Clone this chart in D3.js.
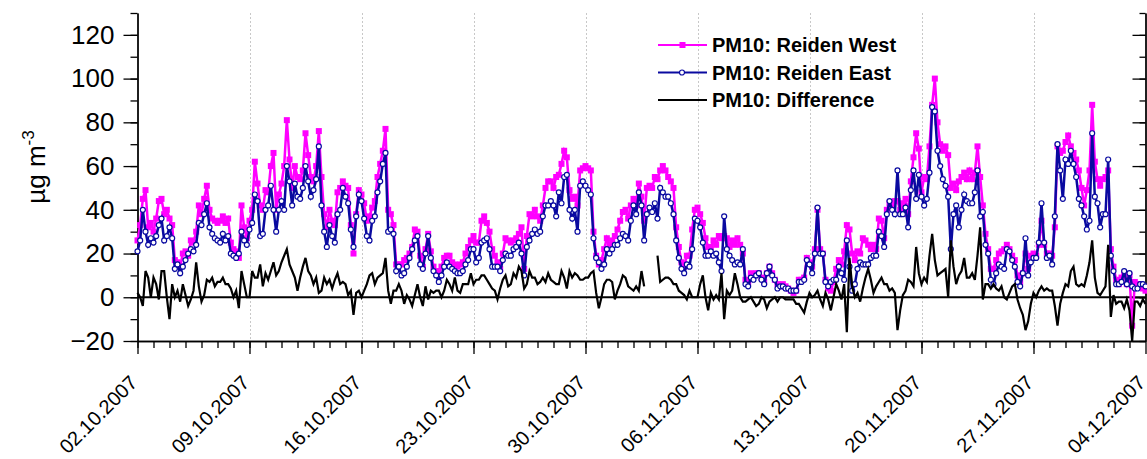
<!DOCTYPE html>
<html>
<head>
<meta charset="utf-8">
<script src="https://cdn.jsdelivr.net/npm/d3@7"></script>
<style>
body { margin: 0; background: #fff; }
svg { display: block; }
</style>
</head>
<body>
<svg id="chart" width="1147" height="459"></svg>
<script>
// PM10 readings, 4 h steps from 02.10.2007 00:00 (one row = one day)
var startTime = '2007-10-02T00:00:00Z'
var stepHours = 4

var westPM10 = [
	26,33,45,49,32,34, 30,36,44,45,38,40, 36,33,17,16,14,20, 21,19,26,25,30,42,
	38,45,51,40,36,35, 34,35,37,34,36,25, 22,21,18,42,32,27, 35,40,62,52,42,40,
	49,48,60,66,40,47, 52,60,81,63,50,60, 55,54,58,75,65,55, 53,60,76,55,38,32,
	40,35,33,48,50,53, 51,50,33,20,38,49, 47,43,35,37,41,44, 55,61,67,77,40,38,
	33,15,15,15,17,18, 20,23,31,30,19,14, 22,29,21,14,12,10, 14,18,19,19,16,15,
	14,15,16,20,23,26, 28,25,25,35,37,34, 30,22,19,16,13,20, 27,26,25,26,27,29,
	32,13,28,38,37,40, 37,35,42,50,53,53, 50,55,56,61,67,64, 49,45,46,42,58,59,
	60,59,58,30,19,15, 17,22,27,24,26,28, 31,35,39,40,36,42, 45,42,52,46,35,50,
	51,50,55,54,58,60, 58,55,53,50,32,23, 16,14,19,19,31,40, 41,38,34,27,23,23,
	26,24,28,27,28,27, 23,26,24,27,24,20, 8,7,11,10,11,11, 9,7,11,14,11,8,
	6,5,6,5,4,3, 2,3,8,8,9,18, 16,14,22,40,22,20, 8,4,3,7,13,17,
	15,21,33,31,20,17, 21,20,27,26,24,22, 24,22,36,35,27,40, 43,41,44,44,40,43,
	45,38,53,64,75,68, 48,55,54,69,88,100, 80,70,67,69,65,50, 52,49,53,55,57,54,
	58,54,57,69,55,42, 29,22,13,13,17,20, 21,22,24,22,19,17, 10,7,11,20,13,19,
	20,19,24,35,24,20, 20,19,32,69,66,67, 71,74,69,66,63,58, 50,42,49,58,88,62,
	54,51,54,55,58,22, 14,8,6,9,11,6, 10,-13,7,6,6,4,
	3
]

var eastPM10 = [
	21,26,40,30,24,27, 25,28,33,36,26,28, 32,27,13,15,11,14, 17,20,22,21,24,34,
	33,38,43,32,29,27, 26,25,29,26,28,20, 19,18,20,30,26,24, 31,34,47,44,28,29,
	40,42,51,40,30,40, 44,40,60,53,42,52, 46,45,50,60,53,46, 49,54,69,42,30,23,
	33,28,25,38,40,50, 46,43,31,23,37,47, 44,36,28,26,35,37, 48,53,61,66,30,31,
	29,12,14,10,11,14, 18,22,26,28,15,13, 20,28,18,12,10,7, 10,14,16,14,13,12,
	11,11,12,15,17,22, 22,16,18,25,26,27, 22,14,14,14,12,17, 20,19,19,22,23,25,
	20,10,23,26,29,31, 29,30,37,42,42,44, 42,37,48,43,55,56, 40,36,40,30,51,53,
	51,49,47,27,18,16, 13,15,22,20,22,24, 24,27,29,28,26,35, 42,38,48,42,26,38,
	41,39,43,36,50,48, 46,46,43,38,26,18, 13,11,15,14,22,36, 35,32,25,19,19,21,
	19,20,16,12,37,22, 19,17,15,16,15,22, 6,5,9,8,10,11, 8,6,11,14,10,8,
	4,5,5,4,4,3, 3,3,7,7,8,17, 15,11,20,41,20,20, 7,5,7,8,8,14,
	11,8,26,14,3,6, 13,16,15,15,15,18, 19,19,30,28,23,38, 44,40,38,58,38,38,
	41,32,49,58,45,56, 46,42,45,57,87,85, 67,60,54,51,46,22, 38,42,32,40,47,44,
	43,43,48,58,37,39, 24,20,8,6,11,15, 14,13,22,21,17,14, 7,5,11,27,10,16,
	18,18,25,43,25,18, 19,15,37,70,58,45, 63,61,67,61,55,45, 42,37,31,35,75,46,
	43,32,38,38,63,19, 12,6,6,7,12,6, 11,5,4,4,6,6,
	5
]

var diffPM10 = [
	2,0,-4,12,9,0, 9,6,-1,12,12,0, -10,6,0,3,-2,6, 1,-4,-1,3,16,5,
	-2,1,8,7,9,5, 7,7,9,6,6,4, 0,3,-5,12,6,0, 0,12,9,9,15,5,
	11,8,12,16,10,12, 16,19,22,15,12,9, 3,9,14,18,12,10, 6,9,2,3,9,6,
	8,4,8,11,6,7, 6,1,3,-8,2,3, 0,3,6,10,11,6, 9,10,11,18,3,-3,
	3,3,6,3,-3,1, -1,-4,1,6,0,-4, 5,-1,3,2,3,3, 0,3,8,6,3,9,
	3,2,6,6,6,11, 6,8,8,10,10,8, 6,4,3,-1,4,8, 10,5,6,11,9,14,
	12,4,6,12,9,9, 6,7,9,7,11,8, 7,6,6,12,9,4, 12,9,11,10,8,8,
	9,9,11,12,2,-5, 0,6,8,8,7,-1, 3,6,10,9,5,4, 3,5,3,12,5,null,
	null,null,null,19,7,8, 9,9,8,6,6,3, 2,1,-1,3,0,0, 0,6,10,0,-6,2,
	-1,1,-1,11,-10,3, 1,3,11,6,0,-2, -2,-1,0,-2,-4,-3, 0,-1,-5,-2,-1,0,
	-2,0,0,-1,-1,-1, -1,-3,-3,-5,-7,-2, 2,0,1,3,-1,-4, 2,-1,-6,0,6,3,
	-1,6,-16,18,5,0, 2,-2,4,9,13,8, 2,5,7,9,6,6, 3,4,2,-15,-6,1,
	3,8,7,5,23,11, 6,9,7,19,29,17, 10,11,12,13,0,26, 14,6,10,12,18,9,
	9,11,8,19,32,-1, 6,6,4,6,4,3, 5,0,-1,2,5,6, -1,-5,-8,-15,-11,-3,
	2,0,3,5,3,4, 3,3,-4,-13,-3,2, 6,5,12,14,6,5, 6,5,10,16,26,9,
	2,1,3,5,24,-9, 1,-3,-2,-2,-5,-1, -6,-20,-2,-2,-4,-1,
	-3
]

var xTickLabels = ['02.10.2007','09.10.2007','16.10.2007','23.10.2007','30.10.2007',
	'06.11.2007','13.11.2007','20.11.2007','27.11.2007','04.12.2007']
var yTickValues = [-20,0,20,40,60,80,100,120]
var seriesNames = ['PM10: Reiden West','PM10: Reiden East','PM10: Difference']

var chart = {}
chart.svg = d3.select('#chart')
chart.font = 'Arial, "Liberation Sans", sans-serif'
chart.west = '#ff00ff'
chart.east = '#0a0aa0'

var parseTick = d3.utcParse('%d.%m.%Y')
var t0 = new Date(startTime)
var times = westPM10.map(function(d,i){ return d3.utcHour.offset(t0, i*stepHours) })
var tickDates = xTickLabels.map(parseTick)

var x = d3.scaleUtc()
	.domain([tickDates[0], tickDates[tickDates.length-1]])
	.range([137.5, 1145.5])
var y = d3.scaleLinear()
	.domain([-20, 130])
	.range([341, 13])

chart.drawAxes = function() {
	var svg = chart.svg

	// dotted week grid
	svg.append('g')
		.selectAll('line')
		.data(tickDates.slice(1, -1))
		.enter().append('line')
		.attr('x1', function(d){ return Math.round(x(d))+0.5 })
		.attr('x2', function(d){ return Math.round(x(d))+0.5 })
		.attr('y1', y(130))
		.attr('y2', y(-20))
		.attr('stroke', '#c8c8c8')
		.attr('stroke-width', 1)
		.attr('stroke-dasharray', '2,2')

	// zero line
	svg.append('line')
		.attr('x1', x.range()[0]).attr('x2', x.range()[1])
		.attr('y1', y(0)).attr('y2', y(0))
		.attr('stroke', '#000')
		.attr('stroke-width', 1.8)

	var bottom = svg.append('g').attr('transform', 'translate(0,' + y(-20) + ')')
	bottom.call(d3.axisBottom(x).tickValues(d3.utcDay.range(tickDates[0], tickDates[9])).tickSize(7).tickSizeOuter(0).tickFormat(''))
	bottom.append('g').call(d3.axisBottom(x).tickValues(tickDates).tickSize(13).tickSizeOuter(0).tickFormat(''))

	var left = svg.append('g').attr('transform', 'translate(' + x.range()[0] + ',0)')
	left.call(d3.axisLeft(y).tickValues(d3.range(-20, 131, 10)).tickSize(7).tickSizeOuter(0).tickFormat(''))
	left.append('g').call(d3.axisLeft(y).tickValues(yTickValues).tickSize(14).tickSizeOuter(0).tickPadding(9))

	// mirrored right axis, ticks inward
	var right = svg.append('g').attr('transform', 'translate(' + x.range()[1] + ',0)')
	right.call(d3.axisLeft(y).tickValues(d3.range(-20, 131, 10)).tickSize(6).tickSizeOuter(0).tickFormat(''))
	right.append('g').call(d3.axisLeft(y).tickValues(yTickValues).tickSize(13).tickSizeOuter(0).tickFormat(''))

	svg.selectAll('.domain, .tick line')
		.attr('stroke', '#000')
		.attr('stroke-width', 1.3)
	left.selectAll('.tick text')
		.style('font-family', chart.font)
		.style('font-size', '26px')
		.attr('fill', '#000')

	svg.append('g')
		.selectAll('text')
		.data(tickDates)
		.enter().append('text')
		.attr('transform', function(d){ return 'translate(' + (x(d)+1) + ',384) rotate(-45)' })
		.attr('text-anchor', 'end')
		.style('font-family', chart.font)
		.style('font-size', '20px')
		.text(function(d,i){ return xTickLabels[i] })

	var title = svg.append('text')
		.attr('transform', 'translate(45,167) rotate(-90)')
		.attr('text-anchor', 'middle')
		.style('font-family', chart.font)
		.style('font-size', '26px')
		.text('µg m')
	title.append('tspan')
		.attr('dy', -11)
		.style('font-size', '17px')
		.text('-3')
}

chart.drawSeries = function() {
	var svg = chart.svg
	var line = d3.line()
		.defined(function(d){ return d != null })
		.x(function(d,i){ return x(times[i]) })
		.y(function(d){ return y(d) })

	var west = svg.append('g').attr('class', 'west')
	west.append('path')
		.datum(westPM10)
		.attr('d', line)
		.attr('fill', 'none')
		.attr('stroke', chart.west)
		.attr('stroke-width', 2.5)
	west.selectAll('rect')
		.data(westPM10)
		.enter().append('rect')
		.attr('x', function(d,i){ return x(times[i]) - 3 })
		.attr('y', function(d){ return y(d) - 3 })
		.attr('width', 6)
		.attr('height', 6)
		.attr('fill', chart.west)

	var east = svg.append('g').attr('class', 'east')
	east.append('path')
		.datum(eastPM10)
		.attr('d', line)
		.attr('fill', 'none')
		.attr('stroke', chart.east)
		.attr('stroke-width', 2.5)
	east.selectAll('circle')
		.data(eastPM10)
		.enter().append('circle')
		.attr('cx', function(d,i){ return x(times[i]) })
		.attr('cy', function(d){ return y(d) })
		.attr('r', 2.5)
		.attr('fill', '#fff')
		.attr('stroke', chart.east)
		.attr('stroke-width', 1.2)

	svg.append('path')
		.datum(diffPM10)
		.attr('d', line)
		.attr('fill', 'none')
		.attr('stroke', '#000')
		.attr('stroke-width', 2.2)
}

chart.drawLegend = function() {
	var rows = chart.svg.append('g')
		.selectAll('g')
		.data(seriesNames)
		.enter().append('g')
		.attr('transform', function(d,i){ return 'translate(0,' + (45 + i*27.5) + ')' })
	rows.append('line')
		.attr('x1', 658).attr('x2', 707)
		.attr('stroke', function(d,i){ return [chart.west, chart.east, '#000'][i] })
		.attr('stroke-width', 2)
	rows.filter(function(d,i){ return i == 0 })
		.append('rect')
		.attr('x', 679.5).attr('y', -3).attr('width', 6).attr('height', 6)
		.attr('fill', chart.west)
	rows.filter(function(d,i){ return i == 1 })
		.append('circle')
		.attr('cx', 682).attr('r', 2.5)
		.attr('fill', '#fff').attr('stroke', chart.east).attr('stroke-width', 1.2)
	rows.append('text')
		.attr('x', 712)
		.attr('y', 7)
		.style('font-family', chart.font)
		.style('font-size', '20px')
		.style('font-weight', 700)
		.text(function(d){ return d })
}

chart.drawAxes()
chart.drawSeries()
chart.drawLegend()
</script>
</body>
</html>
